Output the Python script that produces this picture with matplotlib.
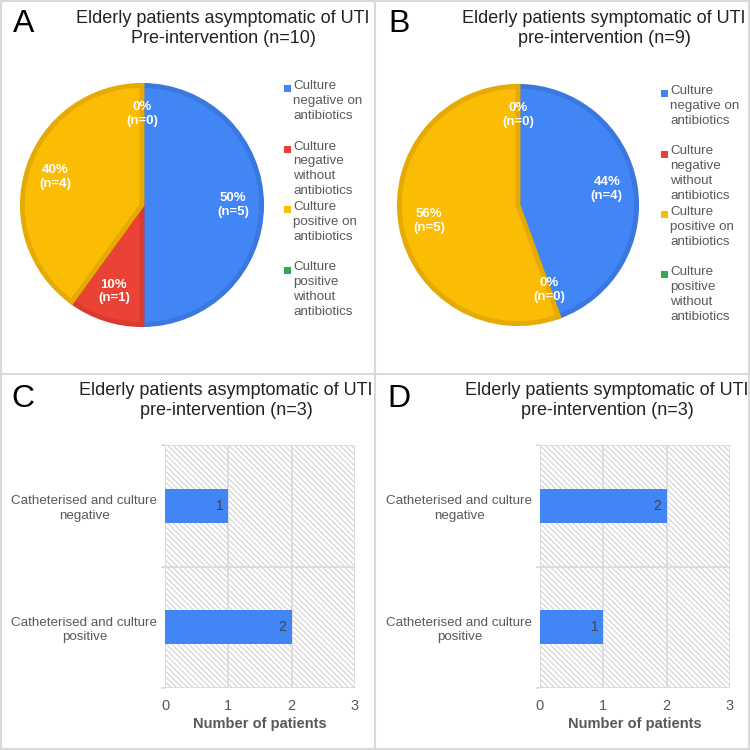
import matplotlib.pyplot as plt
from matplotlib.patches import Rectangle
from matplotlib.lines import Line2D

plt.rcParams['font.family'] = ['Liberation Sans', 'DejaVu Sans']
plt.rcParams['hatch.linewidth'] = 0.8

# ── data ──
pie_labels = ['Culture\nnegative on\nantibiotics',
              'Culture\nnegative\nwithout\nantibiotics',
              'Culture\npositive on\nantibiotics',
              'Culture\npositive\nwithout\nantibiotics']
pie_a_counts = [5, 1, 4, 0]
pie_b_counts = [4, 0, 5, 0]
pie_a_title = 'Elderly patients asymptomatic of UTI\nPre-intervention (n=10)'
pie_b_title = 'Elderly patients symptomatic of UTI\npre-intervention (n=9)'

bar_cats = ['Catheterised and culture\nnegative', 'Catheterised and culture\npositive']
bar_c_vals = [1, 2]
bar_d_vals = [2, 1]
bar_c_title = 'Elderly patients asymptomatic of UTI\npre-intervention (n=3)'
bar_d_title = 'Elderly patients symptomatic of UTI\npre-intervention (n=3)'
x_ticks = [0, 1, 2, 3]

colors = ['#4285F4', '#EA4335', '#FBBC04', '#34A853']
edge_colors = ['#3A77DF', '#D93B2E', '#E5AA03', '#2E9649']
TXT = '#595959'
GRID = '#D9D9D9'

W = 750.0
fig = plt.figure(figsize=(7.5, 7.5), dpi=100)


def px_box(x0, y0, x1, y1):
    # pixel box (top-left origin) -> figure fraction
    return [x0 / W, 1 - y1 / W, (x1 - x0) / W, (y1 - y0) / W]


def draw_pie(cx, cy, r, counts, title, title_x, leg_x, leg_y0):
    ax = fig.add_axes(px_box(cx - r, cy - r, cx + r, cy + r))
    total = sum(counts)
    wedges, _, autotexts = ax.pie(
        counts, colors=colors, startangle=90, counterclock=False,
        radius=1.0, pctdistance=0.76,
        autopct=lambda p: f"{p:.0f}%\n(n={round(p * total / 100)})",
        wedgeprops=dict(linewidth=3.5),
        textprops=dict(color='white', fontsize=9.5, fontweight='bold',
                       linespacing=1.2))
    for w, ec, n in zip(wedges, edge_colors, counts):
        w.set_edgecolor(ec)
        w.set_joinstyle('miter')
        if n == 0:
            w.set_linewidth(0)
    ax.set_xlim(-1.02, 1.02)
    ax.set_ylim(-1.02, 1.02)
    ax.set_aspect('equal')
    ax.axis('off')
    # legend drawn by hand (one 4-line slot per entry)
    for i, (lab, c) in enumerate(zip(pie_labels, colors)):
        y = leg_y0 + 60.5 * i
        fig.patches.append(Rectangle((leg_x / W, 1 - (y + 4) / W), 7 / W, 7 / W,
                                     transform=fig.transFigure, facecolor=c,
                                     edgecolor='none'))
        fig.text((leg_x + 9) / W, 1 - (y - 8) / W, lab, ha='left', va='top',
                 fontsize=9.6, color=TXT, linespacing=1.32)
    fig.text(title_x / W, 1 - 10 / W, title, ha='center', va='top',
             fontsize=13, color='#222222', linespacing=1.2)


def draw_bar(x0, x1, y0, y1, vals, title, title_x, ytop):
    ax = fig.add_axes(px_box(x0, y0, x1, y1))
    ypos = list(range(len(bar_cats)))
    ax.add_patch(Rectangle((0, 0), 1, 1, transform=ax.transAxes, facecolor='white',
                           edgecolor='#D2D2D2', hatch='\\' * 6, linewidth=0,
                           zorder=0))
    bars = ax.barh(ypos, vals, height=0.28, color=colors[0], zorder=3)
    for b, v in zip(bars, vals):
        ax.text(b.get_width() - 0.08, b.get_y() + b.get_height() / 2, str(v),
                ha='right', va='center', fontsize=10, color='#444444', zorder=4)
    ax.set_xlim(0, 3)
    ax.set_ylim(len(bar_cats) - 0.5, -0.5)
    ax.set_xticks(x_ticks)
    ax.set_xticklabels([str(t) for t in x_ticks], fontsize=10.5, color=TXT)
    ax.set_yticks(ypos)
    ax.set_yticklabels(bar_cats, fontsize=9.6, color=TXT, ha='center',
                       linespacing=1.3)
    ax.tick_params(axis='y', length=0, pad=58)
    ax.tick_params(axis='x', length=0, pad=8)
    ax.set_yticks([-0.5, 0.5, 1.5], minor=True)
    ax.tick_params(axis='y', which='minor', length=3, color=GRID, width=1.2)
    for xv in x_ticks:
        ax.axvline(xv, color=GRID, lw=1.2, zorder=1)
    for yv in [-0.5, 0.5, 1.5]:
        ax.axhline(yv, color=GRID, lw=1.2, zorder=1)
    for s in ax.spines.values():
        s.set_visible(False)
    ax.set_xlabel('Number of patients', fontsize=10.5, fontweight='bold', color=TXT,
                  labelpad=3)
    fig.text(title_x / W, 1 - (ytop + 8) / W, title, ha='center', va='top',
             fontsize=13, color='#222222', linespacing=1.2)


# panel A / B (pies)
draw_pie(142, 205, 122, pie_a_counts, pie_a_title, 223, 284, 88)
draw_pie(518, 205, 121, pie_b_counts, pie_b_title, 604, 661, 93)

# panel C / D (bars)
draw_bar(165, 355, 445, 688, bar_c_vals, bar_c_title, 226, 374)
draw_bar(540, 730, 445, 688, bar_d_vals, bar_d_title, 607, 374)

# panel letters
for lx, ly, letter in [(13, 9, 'A'), (388, 9, 'B'), (11, 384, 'C'), (387, 384, 'D')]:
    fig.text(lx / W, 1 - ly / W, letter, ha='left', va='top', fontsize=23,
             color='black')

# panel frames
for xs, ys in [([375, 375], [0, 750]), ([0, 750], [374, 374]),
               ([1, 1], [0, 750]), ([0, 750], [749, 749]),
               ([749, 749], [0, 750]), ([0, 750], [1, 1])]:
    fig.add_artist(Line2D([x / W for x in xs], [1 - y / W for y in ys],
                          transform=fig.transFigure, color=GRID, lw=1.5))

fig.savefig('out.png', dpi=100)
